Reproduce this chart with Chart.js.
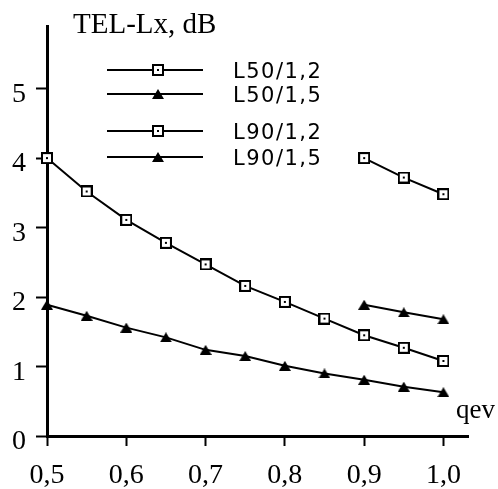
<!DOCTYPE html>
<html>
<head>
<meta charset="utf-8">
<script src="https://cdn.jsdelivr.net/npm/chart.js@4/dist/chart.umd.min.js"></script>
<style>
    html, body { margin: 0; padding: 0; background: #fff; }
    #wrap { width: 498px; height: 489px; }
</style>
</head>
<body>
<div id="wrap"><canvas id="telChart" width="498" height="489"></canvas></div>
<script>
// Data: qev on x, TEL-Lx (dB) on y
const qev = [0.5, 0.55, 0.6, 0.65, 0.7, 0.75, 0.8, 0.85, 0.9, 0.95, 1.0];
const l50_12 = [4.0, 3.52, 3.11, 2.78, 2.47, 2.16, 1.93, 1.69, 1.45, 1.27, 1.08];
const l50_15 = [1.89, 1.73, 1.56, 1.42, 1.24, 1.15, 1.01, 0.90, 0.81, 0.71, 0.63];
const qevHigh = [0.9, 0.95, 1.0];
const l90_12 = [4.0, 3.72, 3.48];
const l90_15 = [1.89, 1.78, 1.68];

const seriesNames = ['L50/1,2', 'L50/1,5', 'L90/1,2', 'L90/1,5'];
const xTicks = [0.5, 0.6, 0.7, 0.8, 0.9, 1.0];
const yTicks = [0, 1, 2, 3, 4, 5];
const yTitle = 'TEL-Lx, dB';
const xTitle = 'qev';

const SERIF = '"Liberation Serif", "Times New Roman", serif';

// Marker sprites: open square with a centre dot, and a filled triangle
function squareMarker() {
    const c = document.createElement('canvas');
    c.width = c.height = 12;
    const g = c.getContext('2d');
    g.fillStyle = '#fff';
    g.fillRect(0, 0, 12, 12);
    g.lineWidth = 2;
    g.strokeStyle = '#000';
    g.strokeRect(1, 1, 10, 10);
    g.fillStyle = '#000';
    g.fillRect(5, 5, 2, 2);
    return c;
}

function triangleMarker() {
    const c = document.createElement('canvas');
    c.width = 12;
    c.height = 10;
    const g = c.getContext('2d');
    g.fillStyle = '#000';
    g.beginPath();
    g.moveTo(6, 0);
    g.lineTo(12, 10);
    g.lineTo(0, 10);
    g.closePath();
    g.fill();
    return c;
}

const square = squareMarker();
const triangle = triangleMarker();
const markers = [square, triangle, square, triangle];

const pairs = (xs, ys) => xs.map((x, i) => ({ x: x, y: ys[i] }));

function series(label, xs, ys, marker) {
    return {
        label: label,
        data: pairs(xs, ys),
        borderColor: '#000',
        borderWidth: 2,
        pointStyle: marker,
        pointRadius: 6,
        pointHoverRadius: 6,
        tension: 0,
        clip: false
    };
}

// Hand-placed legend plus the two axis captions
const annotations = {
    id: 'annotations',
    afterDraw(chart) {
        const ctx = chart.ctx;
        ctx.save();
        ctx.fillStyle = '#000';
        ctx.font = '29px ' + SERIF;
        ctx.textBaseline = 'alphabetic';
        ctx.textAlign = 'left';
        ctx.fillText(yTitle, 73, 33);
        ctx.font = '27px ' + SERIF;
        ctx.fillText(xTitle, 456, 418);

        const rows = [70, 94, 131, 157];
        ctx.font = '21px "DejaVu Sans", sans-serif';
        ctx.letterSpacing = '1.5px';
        ctx.textBaseline = 'middle';
        seriesNames.forEach((name, i) => {
            const y = rows[i];
            ctx.strokeStyle = '#000';
            ctx.lineWidth = 2;
            ctx.beginPath();
            ctx.moveTo(107, y);
            ctx.lineTo(203, y);
            ctx.stroke();
            const m = markers[i];
            ctx.drawImage(m, Math.round(158 - m.width / 2), Math.round(y - m.height / 2));
            ctx.fillText(name, 233, y + 3);
        });
        ctx.restore();
    }
};

new Chart(document.getElementById('telChart'), {
    type: 'line',
    data: {
        datasets: [
            series(seriesNames[0], qev, l50_12, square),
            series(seriesNames[1], qev, l50_15, triangle),
            series(seriesNames[2], qevHigh, l90_12, square),
            series(seriesNames[3], qevHigh, l90_15, triangle)
        ]
    },
    options: {
        responsive: false,
        animation: false,
        layout: { padding: { top: 19, right: 30, left: 0, bottom: 0 } },
        plugins: {
            legend: { display: false },
            title: { display: false },
            tooltip: { enabled: false }
        },
        scales: {
            x: {
                type: 'linear',
                min: 0.5,
                max: 1.031,
                afterFit: s => { s.height = 53; },
                afterBuildTicks: axis => { axis.ticks = xTicks.map(v => ({ value: v })); },
                border: { display: true, color: '#000', width: 3 },
                grid: {
                    drawOnChartArea: false,
                    drawTicks: true,
                    tickLength: 10,
                    tickColor: '#000',
                    tickWidth: 2
                },
                ticks: {
                    color: '#000',
                    font: { family: SERIF, size: 28 },
                    padding: 13,
                    maxRotation: 0,
                    autoSkip: false,
                    callback: v => v.toFixed(1).replace('.', ',')
                }
            },
            y: {
                type: 'linear',
                min: 0,
                max: 5.89,
                afterFit: s => { s.width = 47; },
                afterBuildTicks: axis => { axis.ticks = yTicks.map(v => ({ value: v })); },
                border: { display: true, color: '#000', width: 3 },
                grid: {
                    drawOnChartArea: false,
                    drawTicks: true,
                    tickLength: 11,
                    tickColor: '#000',
                    tickWidth: 2
                },
                ticks: {
                    color: '#000',
                    font: { family: SERIF, size: 28 },
                    padding: 10,
                    labelOffset: 6,
                    autoSkip: false,
                    callback: v => String(v)
                }
            }
        }
    },
    plugins: [annotations]
});
</script>
</body>
</html>
